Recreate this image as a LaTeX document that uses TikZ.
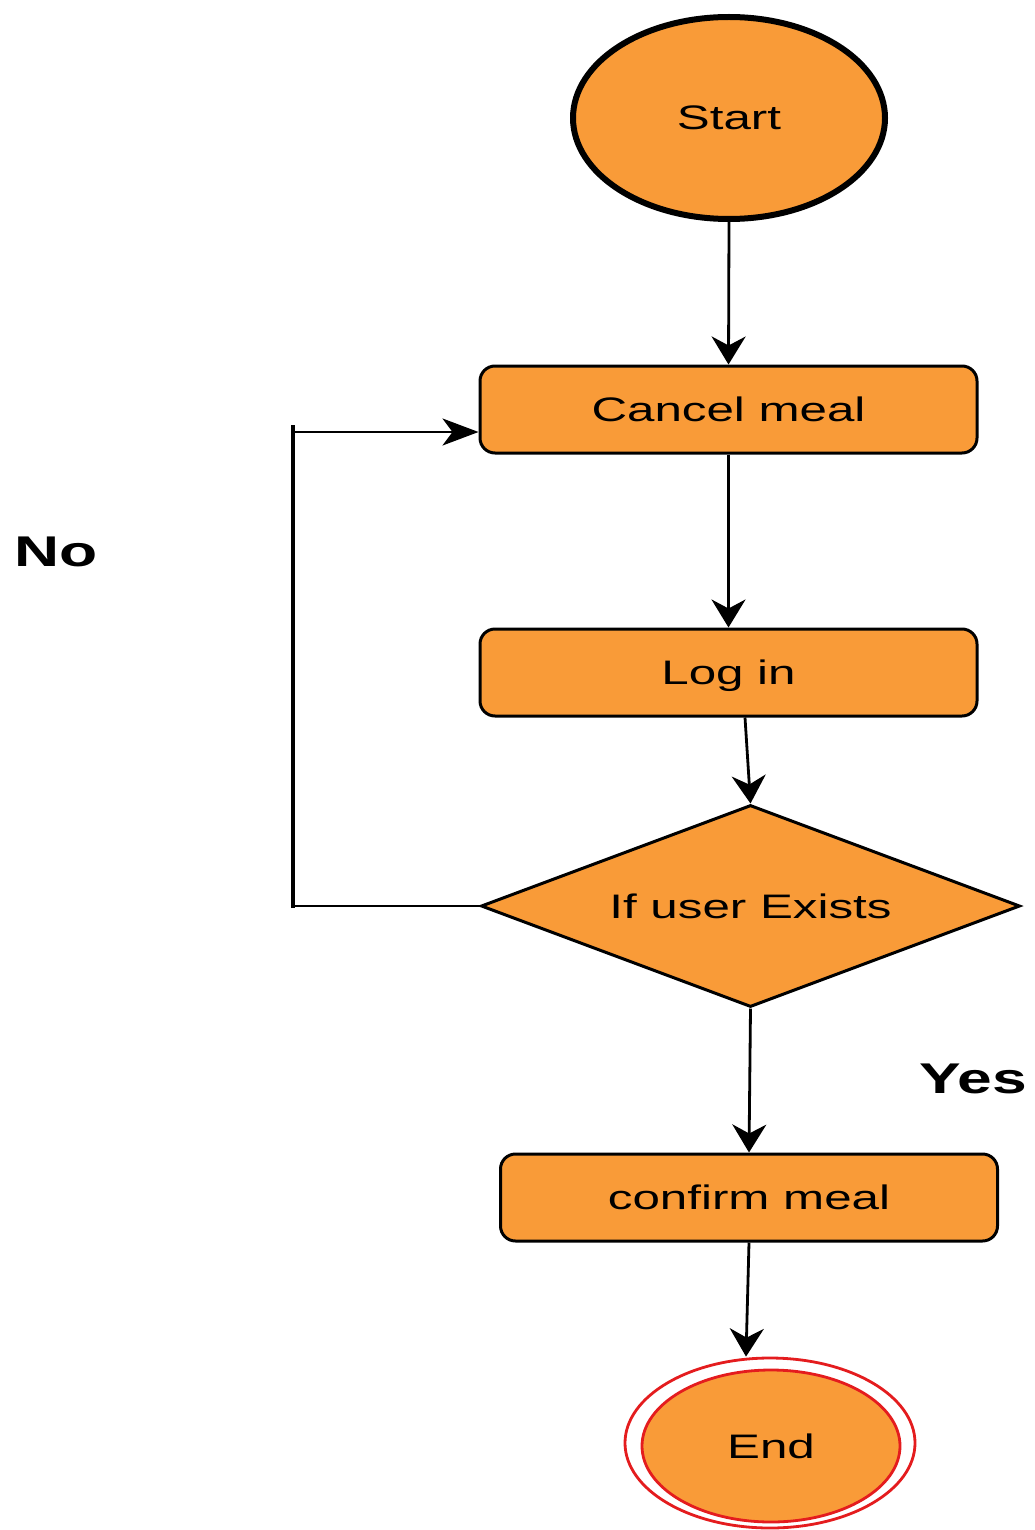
\documentclass[tikz,border=0pt]{standalone}
\usepackage{fontspec}
\setmainfont{Liberation Sans}[FakeStretch=1.45]
\usetikzlibrary{shapes.geometric,arrows.meta}
\definecolor{boxfill}{RGB}{249,155,56}
\definecolor{endred}{RGB}{228,28,30}
\tikzset{
  every node/.style={font=\fontsize{34}{40}\selectfont, text=black, text height=24pt, text depth=0pt},
  flowbox/.style={draw=black, line width=3pt, fill=boxfill, rounded corners=15pt,
    minimum width=497pt, minimum height=87pt, inner sep=0pt},
  conn/.style={line width=2.8pt, -{Stealth[length=28pt,width=34pt,inset=9pt]}},
  answer/.style={font=\fontsize{43}{50}\selectfont\bfseries, text height=31pt},
}
\begin{document}
\begin{tikzpicture}[x=1pt,y=-1pt]
\useasboundingbox (0,0) rectangle (1035,1530);

% process steps
\node[ellipse, draw, line width=6pt, fill=boxfill, minimum width=312pt,
      minimum height=202pt, inner sep=0pt] (start) at (729,118) {Start};
\node[flowbox] (cancel) at (728.5,409.5) {Cancel meal};
\node[flowbox] (login) at (728.5,672.5) {Log in};
\node[diamond, aspect=2.67, draw, line width=3pt, fill=boxfill, minimum width=539pt,
      minimum height=202pt, inner sep=0pt] (check) at (750.5,906) {If user Exists};
\node[flowbox] (confirm) at (749,1197.5) {confirm meal};
\node[ellipse, draw=endred, line width=2.8pt, minimum width=290pt,
      minimum height=170pt, inner sep=0pt] (endouter) at (770,1443) {};
\node[ellipse, draw=endred, line width=2.8pt, fill=boxfill, minimum width=258pt,
      minimum height=152pt, inner sep=0pt] (end) at (771,1446) {End};

% branch labels
\node[answer] (no) at (56,551) {No};
\node[answer] (yes) at (973,1078) {Yes};

% main flow
\draw[conn] (start.south) -- (cancel.north);
\draw[conn] (cancel.south) -- (login.north);
\draw[conn] ([xshift=16.5pt]login.south) -- (check.north);
\draw[conn] (check.south) -- (confirm.north);
\draw[conn] (confirm.south) -- ([xshift=-3pt]confirm.south |- endouter.north);

% "No" loop back to Cancel meal
\coordinate (loopbot) at (293,908);
\coordinate (looptop) at (293,425);
\coordinate (bendlow) at (293,906);
\coordinate (bendhigh) at (293,432);
\draw[line width=2.5pt] (check.west) -- (bendlow);
\draw[line width=3.5pt] (loopbot) -- (looptop);
\draw[line width=2.5pt, -{Stealth[length=36pt,width=27pt,inset=10pt]}]
  (bendhigh) -- (cancel.west |- bendhigh);
\end{tikzpicture}
\end{document}
